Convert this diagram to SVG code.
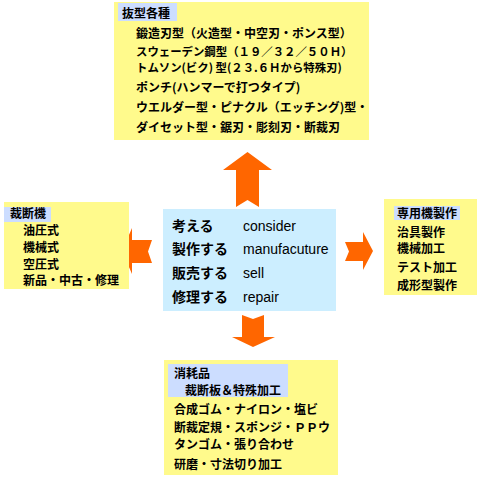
<svg xmlns="http://www.w3.org/2000/svg" width="493" height="477" viewBox="0 0 493 477">
<style>
.box{fill:#FFFA8C}
.hdr{fill:#CCDDFF}
.ctr{fill:#CCEEFF}
.arr{fill:#FF6600}
text{font-family:"Noto Sans CJK JP","Liberation Sans",sans-serif;font-weight:bold;font-size:12px;fill:#000}
.s{font-size:11.4px}
.c{font-size:14px}
.en{font-family:"Liberation Sans","Noto Sans CJK JP",sans-serif;font-weight:normal;font-size:14px}
</style>
<rect width="493" height="477" fill="#FFFFFF"/>
<g id="connectors">
<polygon class="arr" points="247.5,152 272,170 259,170 259,207 247.5,200 236,207 236,170 223,170"/>
<polygon class="arr" points="122,251 132,228 132,240 152,240 148,251.5 152,263 132,263 132,274"/>
<polygon class="arr" points="373,251 363,232 363,242 345,242 349,251.5 345,261 363,261 363,270"/>
<polygon class="arr" points="253,347 232,337 242,337 242,315 253,319 264,315 264,337 275,337"/>
</g>
<g id="top">
<rect class="box" x="114" y="2" width="255" height="138"/>
<rect class="hdr" x="118" y="3" width="59" height="18"/>
<text x="122" y="18">抜型各種</text>
<text x="136" y="37.5">鍛造刃型（火造型・中空刃・ポンス型）</text>
<text class="s" x="136" y="56">スウェーデン鋼型（１９／３２／５０Ｈ）</text>
<text class="s" x="136" y="72">トムソン(ビク) 型(２３.６Ｈから特殊刃)</text>
<text x="136" y="91.5">ポンチ(ハンマーで打つタイプ)</text>
<text x="136" y="111.5">ウエルダー型・ピナクル（エッチング)型・</text>
<text x="136" y="131.5">ダイセット型・鋸刃・彫刻刃・断裁刃</text>
</g>
<g id="left">
<rect class="box" x="4" y="202" width="125" height="87"/>
<rect class="hdr" x="4" y="207" width="47" height="15"/>
<text x="10" y="218">裁断機</text>
<text x="23" y="234.5">油圧式</text>
<text x="23" y="251.5">機械式</text>
<text x="23" y="268.5">空圧式</text>
<text x="23" y="284.5">新品・中古・修理</text>
</g>
<g id="center">
<rect class="ctr" x="163" y="209" width="173" height="102"/>
<text class="c" x="172" y="231">考える</text>
<text class="en" x="243" y="231">consider</text>
<text class="c" x="172" y="254">製作する</text>
<text class="en" x="243" y="254">manufacuture</text>
<text class="c" x="172" y="278">販売する</text>
<text class="en" x="243" y="278">sell</text>
<text class="c" x="172" y="302">修理する</text>
<text class="en" x="243" y="302">repair</text>
</g>
<g id="right">
<rect class="box" x="384" y="199" width="93" height="96"/>
<rect class="hdr" x="394" y="206" width="66" height="14"/>
<text x="397" y="217.5">専用機製作</text>
<text x="397" y="236.5">治具製作</text>
<text x="397" y="252.5">機械加工</text>
<text x="397" y="271.5">テスト加工</text>
<text x="397" y="289.5">成形型製作</text>
</g>
<g id="bottom">
<rect class="box" x="164" y="360" width="174" height="115"/>
<rect class="hdr" x="168" y="364" width="120" height="33"/>
<text x="174" y="377.5">消耗品</text>
<text x="185" y="394.5">裁断板＆特殊加工</text>
<text x="174" y="413.5">合成ゴム・ナイロン・塩ビ</text>
<text x="174" y="431.5">断裁定規・スポンジ・ＰＰウ</text>
<text x="174" y="448.5">タンゴム・張り合わせ</text>
<text x="174" y="468.5">研磨・寸法切り加工</text>
</g>
</svg>
